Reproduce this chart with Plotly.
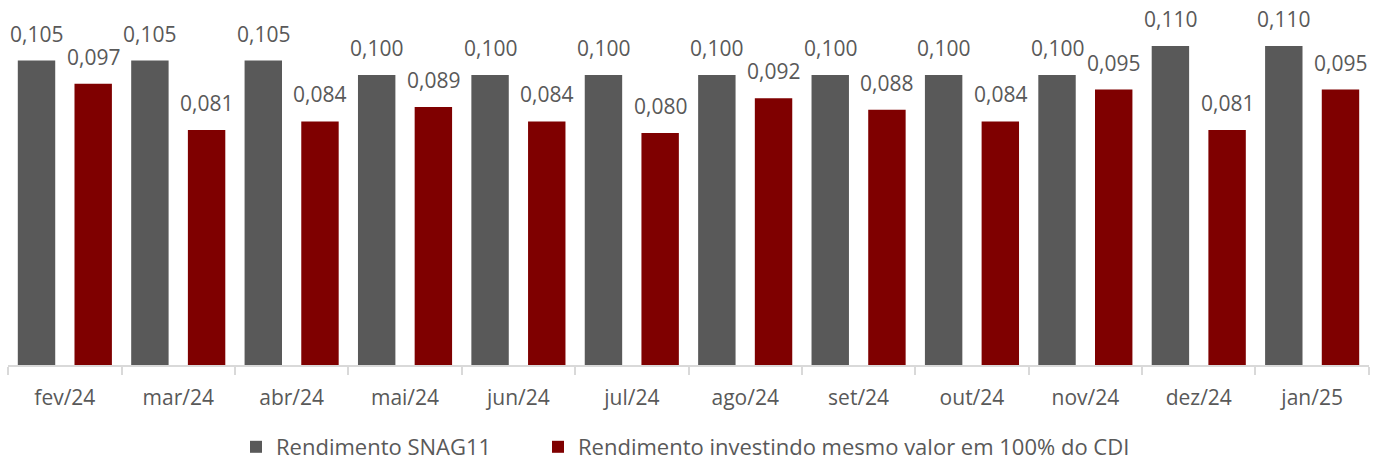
import plotly.graph_objects as go

# Monthly yield per share: SNAG11 distribution vs. same amount invested at 100% of CDI
meses = ["fev/24", "mar/24", "abr/24", "mai/24", "jun/24", "jul/24",
         "ago/24", "set/24", "out/24", "nov/24", "dez/24", "jan/25"]
rend_snag11 = [0.105, 0.105, 0.105, 0.100, 0.100, 0.100,
               0.100, 0.100, 0.100, 0.100, 0.110, 0.110]
rend_cdi = [0.097, 0.081, 0.084, 0.089, 0.084, 0.080,
            0.092, 0.088, 0.084, 0.095, 0.081, 0.095]

nome_snag = "Rendimento SNAG11"
nome_cdi = "Rendimento investindo mesmo valor em 100% do CDI"

COR_SNAG = "#595959"
COR_CDI = "#7f0000"
COR_TEXTO = "#595959"
FONTE = "Open Sans"

W, H = 1387, 463
M_L, M_R, M_T, M_B = 8, 18, 0, 98
plot_w = W - M_L - M_R
cat_w = plot_w / len(meses)
shift = cat_w / 4  # half of one bar slot inside a category group


def fmt(v):
    return f"{v:.3f}".replace(".", ",")


fig = go.Figure()
fig.add_trace(go.Bar(x=meses, y=rend_snag11, name=nome_snag, legend="legend",
                     marker=dict(color=COR_SNAG, line=dict(width=0))))
fig.add_trace(go.Bar(x=meses, y=rend_cdi, name=nome_cdi, legend="legend2",
                     marker=dict(color=COR_CDI, line=dict(width=0))))

# Value labels above each bar
for serie, dx in ((rend_snag11, -shift), (rend_cdi, shift)):
    for m, v in zip(meses, serie):
        fig.add_annotation(x=m, y=v, text=fmt(v), xshift=dx, yshift=11,
                           xanchor="center", yanchor="bottom", showarrow=False,
                           font=dict(family=FONTE, size=21, color=COR_TEXTO))

legenda_base = dict(orientation="h", xref="container", yref="container",
                    xanchor="left", y=1 - 447 / H, yanchor="middle",
                    itemwidth=30, bgcolor="rgba(0,0,0,0)",
                    font=dict(family=FONTE, size=22, color=COR_TEXTO))

fig.update_layout(
    width=W, height=H,
    margin=dict(l=M_L, r=M_R, t=M_T, b=M_B),
    paper_bgcolor="white", plot_bgcolor="white",
    barmode="group", bargap=0.0, bargroupgap=0.34,
    font=dict(family=FONTE, size=21, color=COR_TEXTO),
    showlegend=True,
    legend=dict(legenda_base, x=236 / W),
    legend2=dict(legenda_base, x=538 / W),
    xaxis=dict(showline=True, linecolor="#d9d9d9", linewidth=1.5,
               ticks="outside", tickson="boundaries", ticklen=8,
               tickcolor="#d9d9d9", tickwidth=1.5, ticklabelstandoff=13,
               tickfont=dict(family=FONTE, size=21, color=COR_TEXTO),
               showgrid=False, zeroline=False),
    yaxis=dict(range=[0, 365 / 2900], visible=False, showgrid=False,
               zeroline=False),
)

fig.write_html("out.html")
